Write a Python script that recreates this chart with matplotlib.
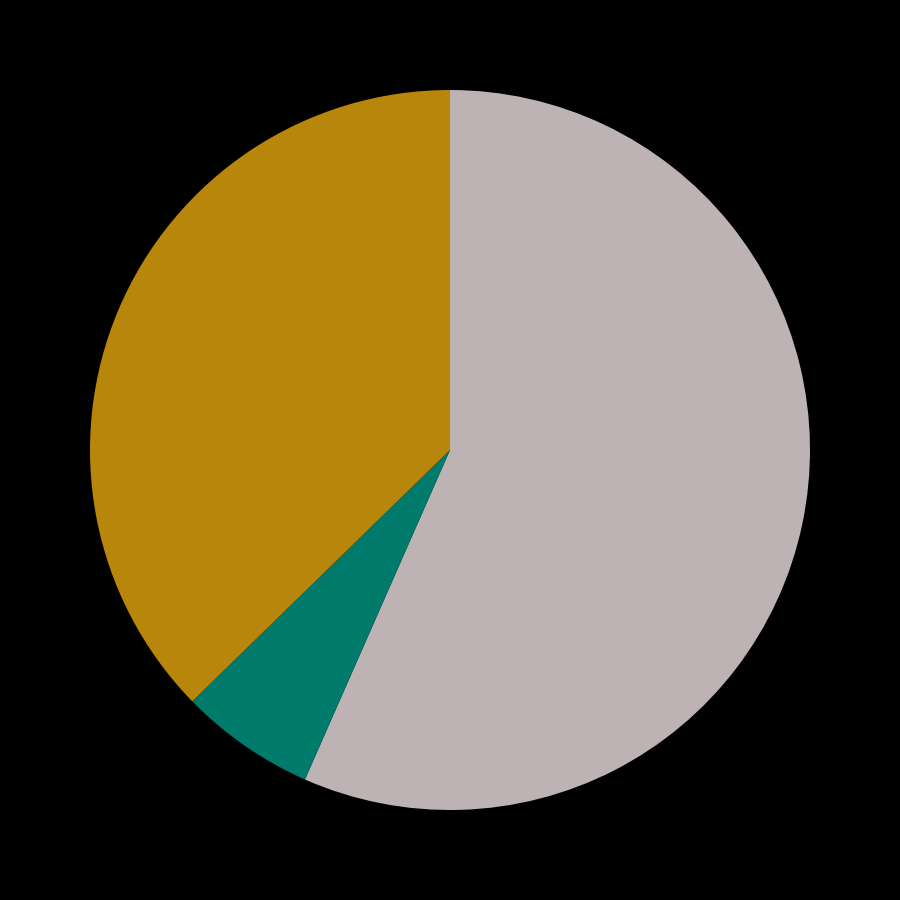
import matplotlib
matplotlib.use("Agg")
import matplotlib.pyplot as plt

# slice shares (clockwise from 12 o'clock)
labels = ["A", "B", "C"]
values = [56.6, 6.1, 37.3]
colors = ["#bdb3b4", "#007a6a", "#b8860b"]

fig = plt.figure(figsize=(9, 9), dpi=100, facecolor="black")
ax = fig.add_axes([0, 0, 1, 1])
ax.set_facecolor("black")

ax.pie(values, colors=colors, startangle=90, counterclock=False,
       wedgeprops={"linewidth": 0})
ax.set_xlim(-1.25, 1.25)
ax.set_ylim(-1.25, 1.25)
ax.set_aspect("equal")
ax.axis("off")

fig.savefig("out.png", facecolor="black")
